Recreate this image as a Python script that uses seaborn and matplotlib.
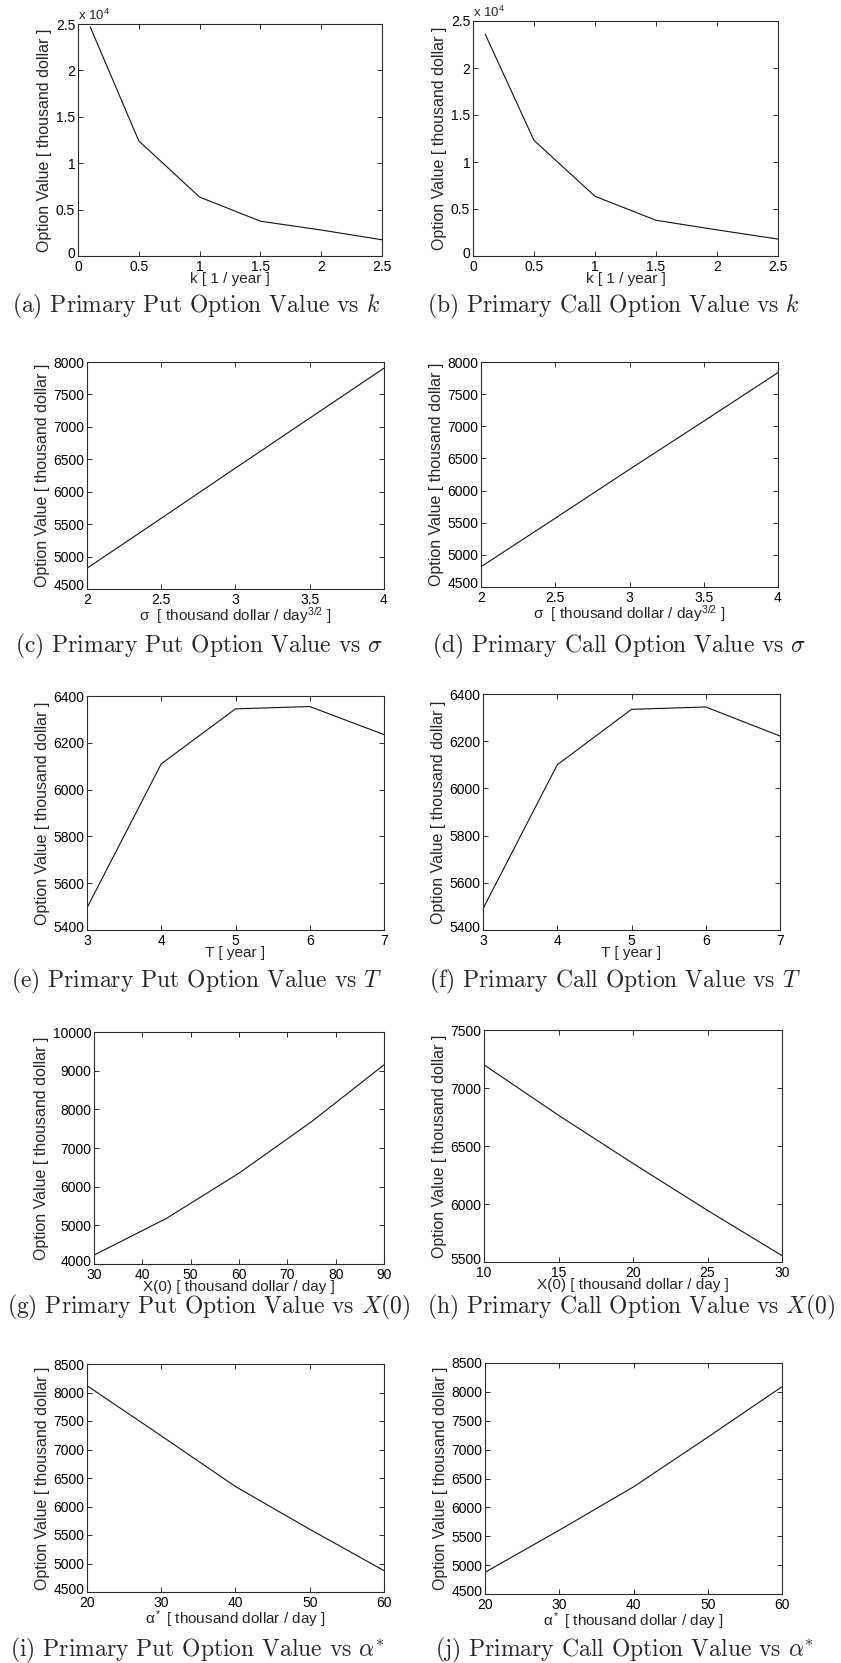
import matplotlib
matplotlib.use("Agg")
import matplotlib.pyplot as plt
import matplotlib.ticker as mticker
import matplotlib.transforms as mtransforms
import numpy as np
import seaborn as sns

# values
k_vals = [0.1, 0.5, 1.0, 1.5, 2.0, 2.5]
put_k = [24700, 12400, 6350, 3750, 2800, 1750]
call_k = [23600, 12300, 6350, 3800, 2780, 1800]

sigma_vals = [2.0, 2.5, 3.0, 3.5, 4.0]
put_sigma = [4820, 5590, 6365, 7135, 7905]
call_sigma = [4815, 5570, 6330, 7080, 7835]

T_vals = [3, 4, 5, 6, 7]
put_T = [5495, 6110, 6345, 6355, 6235]
call_T = [5490, 6100, 6335, 6345, 6222]

x0_put_vals = [30, 45, 60, 75, 90]
put_x0 = [4230, 5180, 6350, 7680, 9150]
x0_call_vals = [10, 15, 20, 25, 30]
call_x0 = [7200, 6765, 6350, 5945, 5555]

alpha_vals = [20, 30, 40, 50, 60]
put_alpha = [8120, 7240, 6350, 5600, 4875]
call_alpha = [4875, 5605, 6355, 7215, 8090]

ylabel = "Option Value [ thousand dollar ]"
xlab_k = "k [ 1 / year ]"
xlab_sigma = "σ  [ thousand dollar / day$^{3/2}$ ]"
xlab_T = "T [ year ]"
xlab_x0 = "X(0) [ thousand dollar / day ]"
xlab_alpha = "α$^*$ [ thousand dollar / day ]"

sns.set_style("ticks")
plt.rcParams["font.family"] = ["Liberation Sans", "DejaVu Sans"]
plt.rcParams["mathtext.fontset"] = "custom"
plt.rcParams["mathtext.rm"] = "Liberation Sans"
plt.rcParams["mathtext.it"] = "Liberation Sans:italic"
plt.rcParams["mathtext.bf"] = "Liberation Sans:bold"

W, H = 841, 1663
fig = plt.figure(figsize=(W / 100, H / 100), dpi=100)
fig.patch.set_facecolor("white")

# (box in px: left, top, right, bottom), x data, y data, xlim, xticks, ylim, yticks, xlabel,
# caption, caption x/baseline in px
panels = [
    ((78, 24, 382, 256), k_vals, put_k, (0, 2.5), np.arange(0, 2.51, 0.5), (0, 25000),
     np.arange(0, 25001, 5000), xlab_k, "(a) Primary Put Option Value vs $k$", (12, 312)),
    ((473, 21, 778, 256), k_vals, call_k, (0, 2.5), np.arange(0, 2.51, 0.5), (0, 25000),
     np.arange(0, 25001, 5000), xlab_k, "(b) Primary Call Option Value vs $k$", (427, 312)),
    ((87, 362, 384, 589), sigma_vals, put_sigma, (2, 4), np.arange(2, 4.01, 0.5), (4500, 8000),
     np.arange(4500, 8001, 500), xlab_sigma, r"(c) Primary Put Option Value vs $\sigma$", (15, 652)),
    ((481, 362, 778, 587), sigma_vals, call_sigma, (2, 4), np.arange(2, 4.01, 0.5), (4500, 8000),
     np.arange(4500, 8001, 500), xlab_sigma, r"(d) Primary Call Option Value vs $\sigma$", (432, 652)),
    ((87, 696, 384, 930), T_vals, put_T, (3, 7), np.arange(3, 8, 1), (5400, 6400),
     np.arange(5400, 6401, 200), xlab_T, "(e) Primary Put Option Value vs $T$", (11, 987)),
    ((483, 694, 780, 930), T_vals, call_T, (3, 7), np.arange(3, 8, 1), (5400, 6400),
     np.arange(5400, 6401, 200), xlab_T, "(f) Primary Call Option Value vs $T$", (429, 987)),
    ((94, 1032, 384, 1264), x0_put_vals, put_x0, (30, 90), np.arange(30, 91, 10), (4000, 10000),
     np.arange(4000, 10001, 1000), xlab_x0, "(g) Primary Put Option Value vs $X(0)$", (7, 1313)),
    ((484, 1030, 782, 1262), x0_call_vals, call_x0, (10, 30), np.arange(10, 31, 5), (5500, 7500),
     np.arange(5500, 7501, 500), xlab_x0, "(h) Primary Call Option Value vs $X(0)$", (427, 1313)),
    ((87, 1364, 384, 1592), alpha_vals, put_alpha, (20, 60), np.arange(20, 61, 10), (4500, 8500),
     np.arange(4500, 8501, 500), xlab_alpha, r"(i) Primary Put Option Value vs $\alpha^{*}$", (10, 1656)),
    ((485, 1363, 782, 1594), alpha_vals, call_alpha, (20, 60), np.arange(20, 61, 10), (4500, 8500),
     np.arange(4500, 8501, 500), xlab_alpha, r"(j) Primary Call Option Value vs $\alpha^{*}$", (435, 1656)),
]

edge = "#2b2b2b"
lift = mtransforms.ScaledTranslation(0, 4 / 100, fig.dpi_scale_trans)
for i, (box, xs, ys, xlim, xt, ylim, yt, xlab, cap, cpos) in enumerate(panels):
    l, t, r, b = box
    ax = fig.add_axes([l / W, 1 - b / H, (r - l) / W, (b - t) / H])
    sns.lineplot(x=xs, y=ys, ax=ax, color="#111111", linewidth=0.8)
    ax.set_xlim(*xlim)
    ax.set_ylim(*ylim)
    ax.set_xticks(xt)
    ax.set_yticks(yt)
    ax.xaxis.set_major_formatter(mticker.FormatStrFormatter("%g"))
    if i < 2:
        ax.yaxis.set_major_formatter(mticker.FuncFormatter(lambda v, p: "%g" % (v / 1e4)))
        ax.text(0.0, 1.004, "x 10$^{4}$", transform=ax.transAxes, ha="left", va="bottom",
                fontsize=9.5)
    else:
        ax.yaxis.set_major_formatter(mticker.FormatStrFormatter("%g"))
    ax.tick_params(direction="in", length=3.5, width=0.7, top=True, right=True,
                   labelsize=10, pad=2, color=edge, labelcolor="black")
    ax.tick_params(axis="x", pad=3)
    # the lowest y label sits a little above the corner, as in the source
    low = ax.yaxis.get_major_ticks()[0].label1
    low.set_transform(low.get_transform() + lift)
    for s in ax.spines.values():
        s.set_visible(True)
        s.set_color(edge)
        s.set_linewidth(0.8)
    ax.set_xlabel(xlab, fontsize=11, labelpad=-1.2)
    ax.set_ylabel(ylabel, fontsize=11.5, labelpad=2.5)
    fig.text(cpos[0] / W, 1 - cpos[1] / H, cap, ha="left", va="baseline",
             fontfamily="cmr10", math_fontfamily="cm", fontsize=17)

fig.savefig("out.png", dpi=100, facecolor="white")
